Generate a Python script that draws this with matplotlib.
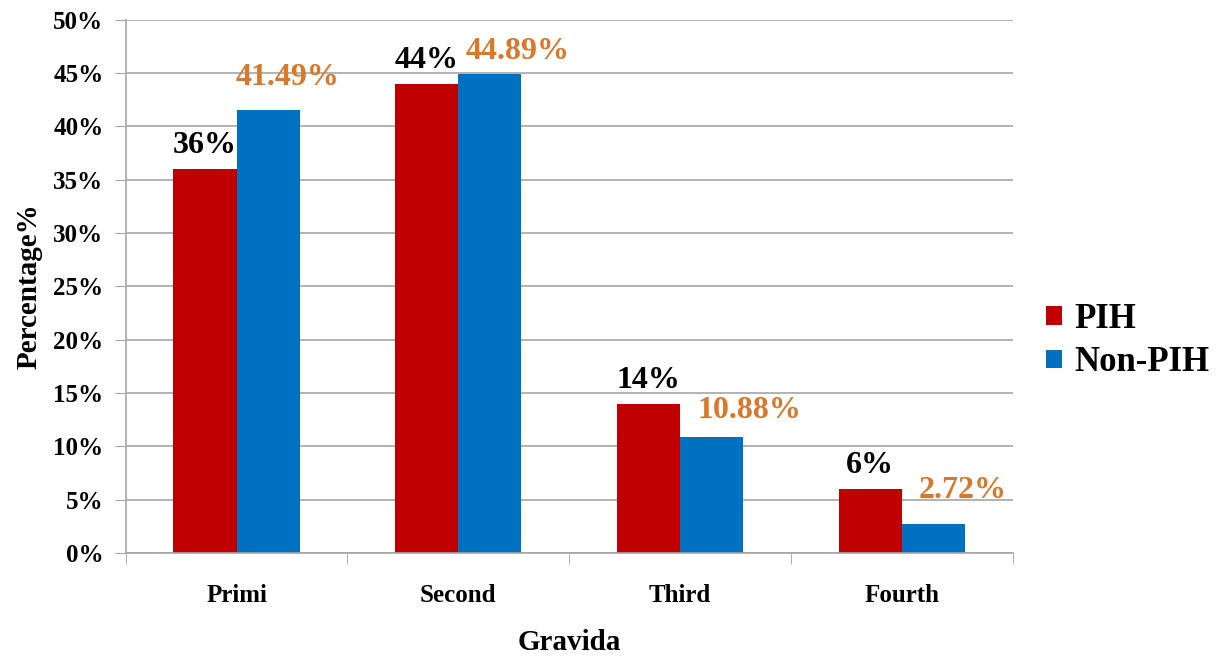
import numpy as np
import matplotlib
matplotlib.use('Agg')
import matplotlib.pyplot as plt

categories = ['Primi', 'Second', 'Third', 'Fourth']
pih = [36, 44, 14, 6]
non_pih = [41.49, 44.89, 10.88, 2.72]
pih_labels = ['36%', '44%', '14%', '6%']
non_pih_labels = ['41.49%', '44.89%', '10.88%', '2.72%']
y_ticks = [0, 5, 10, 15, 20, 25, 30, 35, 40, 45, 50]

# label offsets (points) for the Non-PIH annotations, as placed in the original
non_pih_offsets = [(14, 24), (20, 16), (27, 19), (21, 24)]

plt.rcParams['font.family'] = ['Liberation Serif', 'DejaVu Serif']
plt.rcParams['font.weight'] = 'bold'

RED = '#C00000'
BLUE = '#0070C0'
ORANGE = '#D9782A'
GRID = '#A6A6A6'


def plot_fig():
    fig = plt.figure(figsize=(12.2, 6.56), dpi=100)
    ax = fig.add_axes([0.103, 0.157, 0.727, 0.813])

    x = np.arange(len(categories))
    w = 0.285
    ax.bar(x - w / 2, pih, w, color=RED, label='PIH', zorder=2)
    ax.bar(x + w / 2, non_pih, w, color=BLUE, label='Non-PIH', zorder=2)

    for i in range(len(categories)):
        ax.annotate(pih_labels[i], (x[i] - w / 2, pih[i]), xytext=(0, 17),
                    textcoords='offset points', ha='center', va='center',
                    fontsize=23, fontweight='bold', color='black')
        dx, dy = non_pih_offsets[i]
        ax.annotate(non_pih_labels[i], (x[i] + w / 2, non_pih[i]),
                    xytext=(dx, dy), textcoords='offset points',
                    ha='center', va='center', fontsize=23,
                    fontweight='bold', color=ORANGE)

    ax.set_xlim(-0.5, len(categories) - 0.5)
    ax.set_ylim(0, 50)
    ax.set_yticks(y_ticks)
    ax.set_yticklabels([f'{t}%' for t in y_ticks])
    ax.set_xticks(x)
    ax.set_xticklabels(categories)
    ax.set_xticks(np.arange(-0.5, len(categories), 1), minor=True)
    ax.tick_params(axis='x', which='major', length=0, pad=22, labelsize=18)
    ax.tick_params(axis='x', which='minor', length=8, color=GRID, direction='out')
    ax.tick_params(axis='y', length=8, color=GRID, pad=8, labelsize=18)

    ax.yaxis.grid(True, color=GRID, linewidth=1.2, zorder=0)
    ax.set_axisbelow(True)
    for s in ['top', 'right']:
        ax.spines[s].set_visible(False)
    for s in ['left', 'bottom']:
        ax.spines[s].set_color(GRID)
        ax.spines[s].set_linewidth(1.2)

    ax.set_ylabel('Percentage%', fontsize=21, fontweight='bold', labelpad=8)
    ax.set_xlabel('Gravida', fontsize=21, fontweight='bold', labelpad=16)

    fig.legend(loc='center left', bbox_to_anchor=(0.832, 0.48), frameon=False,
               fontsize=25, handlelength=0.45, handleheight=0.45,
               handletextpad=0.35, labelspacing=0.3)

    fig.savefig('out.png', dpi=100)


if __name__ == '__main__':
    plot_fig()
